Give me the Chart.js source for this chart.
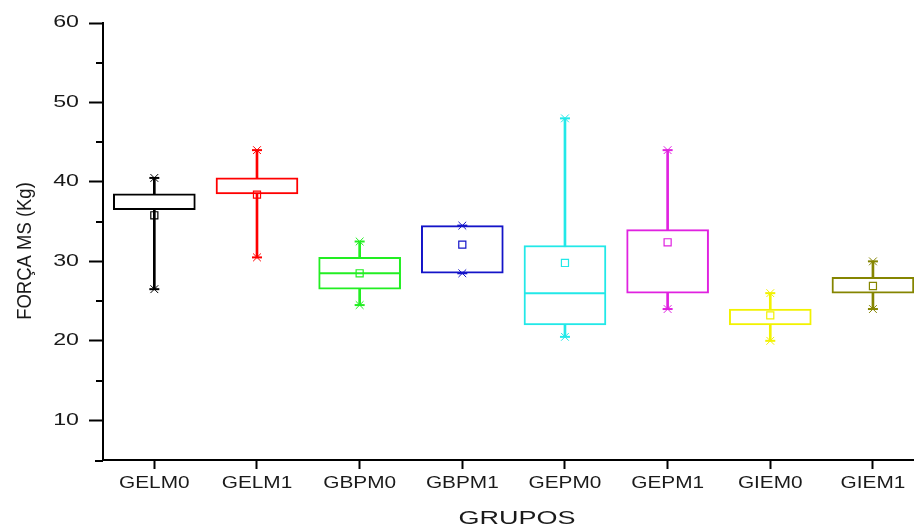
<!DOCTYPE html>
<html>
<head>
<meta charset="utf-8">
<script src="https://cdn.jsdelivr.net/npm/chart.js@4.4.0/dist/chart.umd.min.js"></script>
<style>
  body { margin: 0; background: #fff; }
</style>
</head>
<body>
<canvas id="boxChart" width="914" height="529"></canvas>
<script>
// box plot statistics
var groups = ['GELM0', 'GELM1', 'GBPM0', 'GBPM1', 'GEPM0', 'GEPM1', 'GIEM0', 'GIEM1'];
var minVals    = [26.5, 30.5, 24.5, 28.5, 20.5, 24, 20, 24];
var q1Vals     = [36.5, 38.5, 26.5, 28.5, 22,   26, 22, 26];
var medianVals = [36.5, 38.5, 28.5, 28.5, 26,   26, 22, 26];
var q3Vals     = [38.5, 40.5, 30.5, 34.5, 32,   34, 24, 28];
var maxVals    = [40.5, 44,   32.5, 34.5, 48,   44, 26, 30];
var meanVals   = [35.8, 38.4, 28.5, 32.1, 29.8, 32.4, 23.2, 26.9];
var yTicks = [10, 20, 30, 40, 50, 60];
var yMinorTicks = [15, 25, 35, 45, 55];

var colors = ['#000000', '#ff0000', '#22ee22', '#1414c8', '#22e8e8', '#e022e0', '#f2f200', '#858500'];
var FONT = "'Liberation Sans', Arial, sans-serif";

function points(vals) {
  return vals.map(function (v, i) { return { x: i + 1, y: v }; });
}
function ranges(lo, hi) {
  return lo.map(function (v, i) { return { x: i + 1, y: [v, hi[i]] }; });
}
function marks(vals, style, radius, width) {
  return {
    type: 'scatter', data: points(vals), order: 1,
    pointStyle: style, pointRadius: radius, pointBorderWidth: width,
    pointBorderColor: colors, pointBackgroundColor: 'rgba(0,0,0,0)'
  };
}
// median line is hidden where it sits on a box edge
function medianRadius(c) {
  var i = c.dataIndex;
  return (medianVals[i] === q1Vals[i] || medianVals[i] === q3Vals[i]) ? 0 : 40;
}

// text and minor ticks, drawn with the chart's scales
var axisText = {
  id: 'axisText',
  afterDraw: function (chart) {
    var ctx = chart.ctx, xs = chart.scales.x, ys = chart.scales.y;
    var area = chart.chartArea;
    ctx.save();
    ctx.strokeStyle = '#000';
    ctx.lineWidth = 2;
    ctx.beginPath();
    yMinorTicks.forEach(function (v) {
      var y = Math.round(ys.getPixelForValue(v));
      ctx.moveTo(area.left - 7, y);
      ctx.lineTo(area.left, y);
    });
    ctx.moveTo(area.left - 8, area.bottom + 1);
    ctx.lineTo(area.left, area.bottom + 1);
    ctx.stroke();

    ctx.fillStyle = '#1a1a1a';
    function label(txt, x, y, size, sx, align, rot) {
      ctx.save();
      ctx.translate(x, y);
      if (rot) ctx.rotate(rot);
      ctx.scale(sx, 1);
      ctx.font = size + 'px ' + FONT;
      ctx.textAlign = align;
      ctx.textBaseline = 'middle';
      ctx.fillText(txt, 0, 0);
      ctx.restore();
    }
    yTicks.forEach(function (v) {
      label(String(v), 79, ys.getPixelForValue(v), 16, 1.45, 'right');
    });
    groups.forEach(function (g, i) {
      label(g, xs.getPixelForValue(i + 1), 484, 16, 1.3, 'center');
    });
    label('GRUPOS', 517, 519, 18, 1.5, 'center');
    label('FORÇA MS (Kg)', 25, 251, 21, 0.88, 'center', -Math.PI / 2);
    ctx.restore();
  }
};

var medianSet = marks(medianVals, 'line', 40, 2);
medianSet.pointRadius = medianRadius;

new Chart(document.getElementById('boxChart'), {
  type: 'bar',
  data: {
    datasets: [
      {
        // whiskers
        data: ranges(minVals, maxVals), order: 4, grouped: false,
        barThickness: 2, backgroundColor: colors, borderWidth: 0
      },
      {
        // boxes
        data: ranges(q1Vals, q3Vals), order: 3, grouped: false,
        barThickness: 82, backgroundColor: '#ffffff', borderColor: colors,
        borderWidth: 2, borderSkipped: false
      },
      medianSet,
      marks(maxVals, 'line', 5, 2),
      marks(minVals, 'line', 5, 2),
      marks(maxVals, 'crossRot', 5.5, 1),
      marks(minVals, 'crossRot', 5.5, 1),
      marks(meanVals, 'rect', 5, 1.2)
    ]
  },
  options: {
    responsive: false,
    animation: false,
    layout: { autoPadding: false, padding: { top: 23, right: 0, left: 0, bottom: 0 } },
    plugins: { legend: { display: false }, tooltip: { enabled: false } },
    scales: {
      x: {
        type: 'linear', min: 0.5, max: 8.4, offset: false,
        afterBuildTicks: function (s) { s.ticks = groups.map(function (g, i) { return { value: i + 1 }; }); },
        afterFit: function (s) { s.height = 69; },
        ticks: { display: false },
        grid: { offset: false, drawOnChartArea: false, tickLength: 9, tickWidth: 2, tickColor: '#000', color: '#000' },
        border: { color: '#000', width: 2 }
      },
      y: {
        min: 5, max: 60,
        afterBuildTicks: function (s) { s.ticks = yTicks.map(function (v) { return { value: v }; }); },
        afterFit: function (s) { s.width = 103; },
        ticks: { display: false },
        grid: { drawOnChartArea: false, tickLength: 14, tickWidth: 2, tickColor: '#000', color: '#000' },
        border: { color: '#000', width: 2 }
      }
    }
  },
  plugins: [axisText]
});
</script>
</body>
</html>
